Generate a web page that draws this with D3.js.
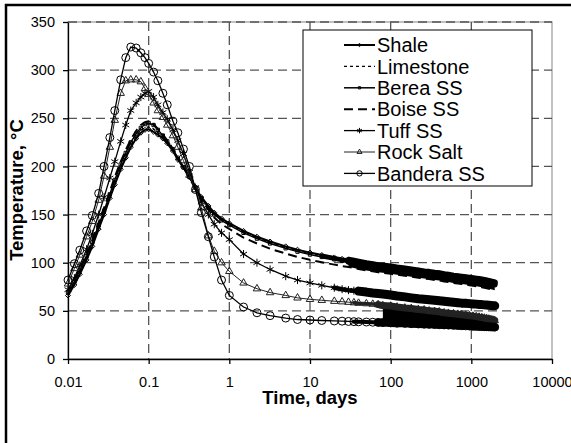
<!DOCTYPE html>
<html>
<head>
<meta charset="utf-8">
<script src="https://cdn.jsdelivr.net/npm/d3@7"></script>
<style>
  body { margin: 0; background: #fff; }
  text { font-family: Arial, "Liberation Sans", sans-serif; }
</style>
</head>
<body>
<script>
// time grid shared by all series (days)
var days = [0.01, 0.012, 0.014, 0.017, 0.02, 0.024, 0.028, 0.033, 0.038, 0.045,
  0.052, 0.06, 0.07, 0.08, 0.09, 0.1, 0.115, 0.13, 0.15, 0.17,
  0.2, 0.23, 0.27, 0.32, 0.38, 0.45, 0.55, 0.65, 0.8, 1,
  1.5, 2.2, 3.2, 5, 7, 10, 14, 20, 25, 30,
  35, 40, 50, 60, 70, 80, 100, 120, 150, 180,
  220, 260, 300, 350, 400, 460, 520, 600, 680, 760,
  850, 950, 1050, 1150, 1250, 1350, 1450, 1550, 1650, 1750,
  1850, 1950];

var shale = [66, 77, 88, 103, 117, 135, 150, 167, 181, 197,
  209, 220, 229, 235, 238, 238.5, 236, 233, 229, 224,
  216, 207, 199, 189, 178, 168, 159, 152, 146, 141,
  133, 127, 122, 117, 113.5, 110.5, 108, 105.5, 104, 103,
  102, 101, 99.5, 98.5, 97.5, 97, 96, 95, 94, 93,
  92, 91, 90.5, 89.5, 89, 88, 87.5, 86.5, 86, 85.5,
  85, 84.5, 84, 83.5, 83, 82.5, 82, 81.5, 81, 80.5,
  80, 79.5];

var limestone = [68, 79, 90, 105, 119, 137, 152, 169, 183, 199,
  211, 222, 231, 237, 240.5, 241, 239, 235, 230, 225,
  217, 208, 199, 189, 178, 167.5, 158, 151, 145, 140,
  132, 126, 121, 116, 112.5, 109.5, 107, 104.5, 103, 102,
  101, 100, 98.5, 97.5, 96.5, 96, 95, 94, 93, 92,
  91, 90, 89.5, 88.5, 88, 87, 86.5, 85.5, 85, 84.5,
  84, 83.5, 83, 82.5, 82, 81.5, 81, 80.5, 80, 79.5,
  79, 78.5];

var berea = [69, 80, 92, 107, 121, 139, 154, 171, 186, 202,
  214, 225, 234, 240, 244, 245, 243, 238, 232, 226,
  218, 209, 199, 189, 178, 167, 157, 150, 144, 139,
  131, 125, 120, 115, 111.5, 108.5, 106, 103.5, 102, 101,
  100, 99, 97.5, 96.5, 95.5, 95, 94, 93, 92, 91,
  90, 89, 88.5, 87.5, 87, 86, 85.5, 84.5, 84, 83.5,
  83, 82.5, 82, 81.5, 81, 80.5, 80, 79.5, 79, 78.5,
  78, 77.5];

var boise = [70, 82, 94, 109, 124, 142, 157, 174, 189, 205,
  217, 228, 237, 243, 246, 247, 244, 239, 233, 227,
  218, 209, 199, 188, 177, 166, 155, 147, 140, 135,
  126, 120, 114.5, 109.5, 106, 103, 100.5, 98, 96.5, 95.5,
  94.5, 93.5, 92, 91, 90, 89.5, 88.5, 87.5, 86.5, 85.5,
  84.5, 83.5, 83, 82, 81.5, 80.5, 80, 79, 78.5, 78,
  77.5, 76.5, 76, 75.5, 75, 74.5, 74, 73.5, 73, 72.5,
  72, 71.5];

var tuff = [72, 84, 97, 114, 130, 150, 168, 188, 205, 226,
  243, 258, 266, 272, 276, 278, 272, 264, 256, 249,
  238, 227, 213, 194, 178, 163, 150, 140, 131, 124,
  109, 100, 93, 86, 82, 79, 76.5, 74, 72.5, 71.5,
  71, 70.5, 69.5, 68.5, 68, 67.5, 66.5, 65.5, 64.5, 63.5,
  62.5, 62, 61.5, 61, 60.5, 60, 59.5, 59, 58.5, 58,
  57.8, 57.5, 57.2, 57, 56.7, 56.5, 56.2, 56, 55.8, 55.6,
  55.4, 55.2];

var rockSalt = [78, 94, 108, 127, 143, 165, 190, 220, 248, 276,
  289, 290, 290, 288, 281, 275, 266, 258, 251, 243,
  232, 220, 206, 191, 176, 157, 128, 112, 100, 91,
  79, 73, 69, 66, 63.5, 62, 61, 60, 59.5, 59,
  58.5, 58, 57.5, 57, 56.5, 55.5, 55, 54, 53, 52.5,
  51.5, 51, 50, 49.5, 49, 48, 47.5, 47, 46.5, 46,
  45.5, 45, 44.5, 44, 43.5, 43, 42.5, 42, 41.5, 41,
  40.5, 40];

var bandera = [82, 99, 113, 133, 149, 172, 200, 230, 258, 290,
  313, 324, 323, 318, 313, 307, 298, 289, 276, 264,
  247, 235, 218, 200, 176, 152, 127, 106, 82, 66,
  54, 48, 45, 42.5, 41, 40.5, 40, 39.5, 39.3, 39,
  38.8, 38.6, 38.4, 38.2, 38, 37.8, 37.5, 37.2, 37, 36.7,
  36.4, 36.2, 36, 35.8, 35.6, 35.4, 35.2, 35, 34.8, 34.6,
  34.4, 34.2, 34, 33.9, 33.8, 33.7, 33.6, 33.5, 33.4, 33.3,
  33.2, 33.1];

var seriesNames = ["Shale", "Limestone", "Berea SS", "Boise SS", "Tuff SS", "Rock Salt", "Bandera SS"];
var seriesValues = [shale, limestone, berea, boise, tuff, rockSalt, bandera];

var xTicks = [0.01, 0.1, 1, 10, 100, 1000, 10000];
var xTickLabels = ["0.01", "0.1", "1", "10", "100", "1000", "10000"];
var yTicks = [0, 50, 100, 150, 200, 250, 300, 350];

// line / marker look for each series, same order as seriesNames.
// band: heavy stroke where the original markers pile up (half width from bandIn, full from bandFrom)
var styles = [
  { width: 2, dash: null, symbol: d3.symbolDiamond2, size: 16, color: "#000", band: 6, bandIn: 14, bandFrom: 30 },
  { width: 1.3, dash: "3,3", symbol: null, size: 0, color: "#000", band: 0 },
  { width: 1.5, dash: null, symbol: d3.symbolSquare2, size: 14, color: "#000", band: 6, bandIn: 14, bandFrom: 30 },
  { width: 2, dash: "9,5", symbol: null, size: 0, color: "#000", band: 0 },
  { width: 1.3, dash: null, symbol: d3.symbolAsterisk, size: 45, color: "#000", band: 9, bandIn: 20, bandFrom: 40 },
  { width: 1, dash: null, symbol: d3.symbolTriangle2, size: 40, color: "#222", band: 7, bandIn: 35, bandFrom: 70 },
  { width: 1.3, dash: null, symbol: d3.symbolCircle, size: 50, color: "#000", band: 8, bandIn: 35, bandFrom: 70 }
];

// where markers of two neighbouring series merge into one solid black band
var mergedBands = [
  { upper: 0, lower: 3, from: 30 },
  { upper: 5, lower: 6, from: 80 }
];

var plot = { left: 68, right: 552, top: 22, bottom: 359 };

var x = d3.scaleLog().domain([0.01, 10000]).range([plot.left, plot.right]);
var y = d3.scaleLinear().domain([0, 350]).range([plot.bottom, plot.top]);

var svg = d3.select("body").append("svg").attr("width", 571).attr("height", 443);

// outer chart frame
svg.append("rect")
  .attr("x", 6).attr("y", 5)
  .attr("width", 620).attr("height", 520)
  .attr("fill", "#fff")
  .attr("stroke", "#000")
  .attr("stroke-width", 2.5);

// plot area border
svg.append("rect")
  .attr("x", plot.left).attr("y", plot.top)
  .attr("width", plot.right - plot.left).attr("height", plot.bottom - plot.top)
  .attr("fill", "none")
  .attr("stroke", "#999")
  .attr("stroke-width", 1.2);

// grid
svg.append("g")
  .selectAll("line")
  .data(yTicks.slice(1))
  .enter()
  .append("line")
  .attr("x1", plot.left).attr("x2", plot.right)
  .attr("y1", function (d) { return y(d); })
  .attr("y2", function (d) { return y(d); })
  .attr("stroke", "#555")
  .attr("stroke-width", 1.3)
  .attr("stroke-dasharray", "9,5");

svg.append("g")
  .selectAll("line")
  .data(xTicks.slice(1, -1))
  .enter()
  .append("line")
  .attr("x1", function (d) { return x(d); })
  .attr("x2", function (d) { return x(d); })
  .attr("y1", plot.top).attr("y2", plot.bottom)
  .attr("stroke", "#555")
  .attr("stroke-width", 1.3)
  .attr("stroke-dasharray", "9,5");

// axes
var yAxis = svg.append("g")
  .attr("transform", "translate(" + plot.left + ",0)")
  .call(d3.axisLeft(y).tickValues(yTicks).tickSize(5).tickSizeOuter(0).tickPadding(8));

var xAxis = svg.append("g")
  .attr("transform", "translate(0," + plot.bottom + ")")
  .call(d3.axisBottom(x).tickValues(xTicks).tickSize(5).tickSizeOuter(0).tickPadding(13)
    .tickFormat(function (d, i) { return xTickLabels[i]; }));

[yAxis, xAxis].forEach(function (g) {
  g.attr("font-family", "Arial, 'Liberation Sans', sans-serif").attr("font-size", 14.5);
  g.selectAll("path, line").attr("stroke", "#000").attr("stroke-width", 1.3);
  g.selectAll("text").attr("fill", "#000");
});

// series
var line = d3.line()
  .x(function (d) { return x(d[0]); })
  .y(function (d) { return y(d[1]); });

var area = d3.area()
  .x(function (d) { return x(d[0]); })
  .y0(function (d) { return y(d[2]); })
  .y1(function (d) { return y(d[1]); });

mergedBands.forEach(function (b) {
  var pts = d3.zip(days, seriesValues[b.upper], seriesValues[b.lower])
    .filter(function (p) { return p[0] >= b.from; });
  svg.append("path")
    .datum(pts)
    .attr("d", area)
    .attr("fill", "#000");
});

seriesValues.forEach(function (vals, k) {
  var st = styles[k];
  var pts = d3.zip(days, vals);
  var g = svg.append("g");
  g.append("path")
    .datum(pts)
    .attr("d", line)
    .attr("fill", "none")
    .attr("stroke", st.color)
    .attr("stroke-width", st.width)
    .attr("stroke-dasharray", st.dash);
  if (st.band) {
    [[st.bandIn, st.band * 0.5], [st.bandFrom, st.band]].forEach(function (b) {
      g.append("path")
        .datum(pts.filter(function (p) { return p[0] >= b[0]; }))
        .attr("d", line)
        .attr("fill", "none")
        .attr("stroke", st.color)
        .attr("stroke-width", b[1])
        .attr("stroke-linecap", "round")
        .attr("stroke-linejoin", "round");
    });
  }
  if (st.symbol) {
    var sym = d3.symbol().type(st.symbol).size(st.size);
    g.selectAll("path.m")
      .data(pts)
      .enter()
      .append("path")
      .attr("class", "m")
      .attr("d", sym)
      .attr("transform", function (d) {
        return "translate(" + x(d[0]) + "," + y(d[1]) + ")";
      })
      .attr("fill", "none")
      .attr("stroke", st.color)
      .attr("stroke-width", 1);
  }
});

// axis titles
svg.append("text")
  .attr("x", 310).attr("y", 404)
  .attr("text-anchor", "middle")
  .attr("font-size", 18.5)
  .attr("font-weight", "bold")
  .text("Time, days");

svg.append("text")
  .attr("transform", "translate(23,190) rotate(-90)")
  .attr("text-anchor", "middle")
  .attr("font-size", 18.5)
  .attr("font-weight", "bold")
  .text("Temperature, °C");

// legend
var legend = svg.append("g");
legend.append("rect")
  .attr("x", 303).attr("y", 30)
  .attr("width", 229).attr("height", 156)
  .attr("fill", "#fff")
  .attr("stroke", "#000")
  .attr("stroke-width", 1);

seriesNames.forEach(function (name, i) {
  var st = styles[i];
  var cy = 45 + i * 21.4;
  legend.append("line")
    .attr("x1", 344).attr("x2", 375)
    .attr("y1", cy).attr("y2", cy)
    .attr("stroke", st.color)
    .attr("stroke-width", st.width)
    .attr("stroke-dasharray", st.dash);
  if (st.symbol) {
    legend.append("path")
      .attr("d", d3.symbol().type(st.symbol).size(st.size * 0.45)())
      .attr("transform", "translate(359.5," + cy + ")")
      .attr("fill", "none")
      .attr("stroke", st.color)
      .attr("stroke-width", 1);
  }
  legend.append("text")
    .attr("x", 377).attr("y", cy)
    .attr("dy", "0.36em")
    .attr("font-size", 20)
    .text(name);
});
</script>
</body>
</html>
